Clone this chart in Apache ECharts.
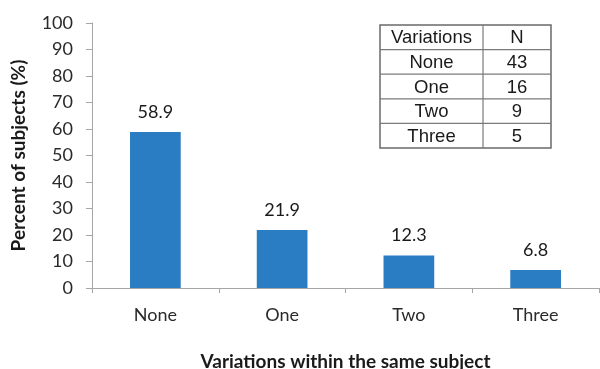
<!DOCTYPE html>
<html>
<head>
<meta charset="utf-8">
<script src="https://cdn.jsdelivr.net/npm/echarts@6/dist/echarts.min.js"></script>
<style>
  html, body { margin: 0; padding: 0; background: #fff; }
  #chart { width: 600px; height: 369px; }
</style>
</head>
<body>
<div id="chart"></div>
<script>
// Share of subjects by number of variations
const categories = ['None', 'One', 'Two', 'Three'];
const percents = [58.9, 21.9, 12.3, 6.8];
const yTicks = [0, 10, 20, 30, 40, 50, 60, 70, 80, 90, 100];

// Counts shown in the inset table
const tableHeader = ['Variations', 'N'];
const tableLabels = ['None', 'One', 'Two', 'Three'];
const tableCounts = [43, 16, 9, 5];

const font = 'Lato, "Noto Sans", sans-serif';
const tableFont = '"Liberation Sans", Arial, sans-serif';

// Inset table built from the arrays above
function buildTable() {
  const x0 = 380, x1 = 483, x2 = 551, y0 = 25, rowH = 24.6;
  const rows = [tableHeader].concat(tableLabels.map((l, i) => [l, String(tableCounts[i])]));
  const els = [];
  const lineStyle = { stroke: '#7a7a7a', lineWidth: 1.2 };
  const yEnd = y0 + rowH * rows.length;
  els.push({ type: 'rect', shape: { x: x0, y: y0, width: x2 - x0, height: yEnd - y0 },
             style: { fill: '#fff', stroke: '#6a6a6a', lineWidth: 1.5 } });
  els.push({ type: 'line', shape: { x1: x1, y1: y0, x2: x1, y2: yEnd }, style: lineStyle });
  for (let r = 1; r < rows.length; r++) {
    const y = y0 + rowH * r;
    els.push({ type: 'line', shape: { x1: x0, y1: y, x2: x2, y2: y }, style: lineStyle });
  }
  rows.forEach((row, r) => {
    const cy = y0 + rowH * r + rowH / 2 + 1;
    els.push({ type: 'text', x: (x0 + x1) / 2, y: cy,
      style: { text: row[0], font: '18.5px ' + tableFont, fill: '#1a1a1a', align: 'center', verticalAlign: 'middle' } });
    els.push({ type: 'text', x: (x1 + x2) / 2, y: cy,
      style: { text: row[1], font: '18.5px ' + tableFont, fill: '#1a1a1a', align: 'center', verticalAlign: 'middle' } });
  });
  return els;
}

const chart = echarts.init(document.getElementById('chart'), null, { renderer: 'canvas' });
chart.setOption({
  animation: false,
  backgroundColor: '#fff',
  grid: { left: 92, right: 1, top: 23, bottom: 81, containLabel: false, outerBoundsMode: 'none' },
  xAxis: {
    type: 'category',
    data: categories,
    name: 'Variations within the same subject',
    nameLocation: 'middle',
    nameGap: 64,
    nameTextStyle: { fontFamily: font, fontSize: 19, fontWeight: 'bold', color: '#1a1a1a' },
    axisLine: { lineStyle: { color: '#a6a6a6', width: 1 } },
    axisTick: { show: true, length: 5, lineStyle: { color: '#a6a6a6' } },
    axisLabel: { fontFamily: font, fontSize: 18, color: '#2a2a2a', margin: 18 }
  },
  yAxis: {
    type: 'value',
    min: yTicks[0],
    max: yTicks[yTicks.length - 1],
    interval: yTicks[1] - yTicks[0],
    name: 'Percent of subjects (%)',
    nameLocation: 'middle',
    nameGap: 64,
    nameTextStyle: { fontFamily: font, fontSize: 19, fontWeight: 'bold', color: '#1a1a1a' },
    axisLine: { show: true, lineStyle: { color: '#a6a6a6', width: 1 } },
    axisTick: { show: true, length: 6, lineStyle: { color: '#a6a6a6' } },
    splitLine: { show: false },
    axisLabel: { fontFamily: font, fontSize: 18, color: '#2a2a2a', margin: 19 }
  },
  series: [{
    type: 'bar',
    data: percents,
    barWidth: '40%',
    itemStyle: { color: '#2a7cc3' },
    label: {
      show: true,
      position: 'top',
      distance: 11,
      fontFamily: font,
      fontSize: 18,
      color: '#1a1a1a',
      formatter: p => p.value.toFixed(1)
    }
  }],
  graphic: buildTable()
});
</script>
</body>
</html>
